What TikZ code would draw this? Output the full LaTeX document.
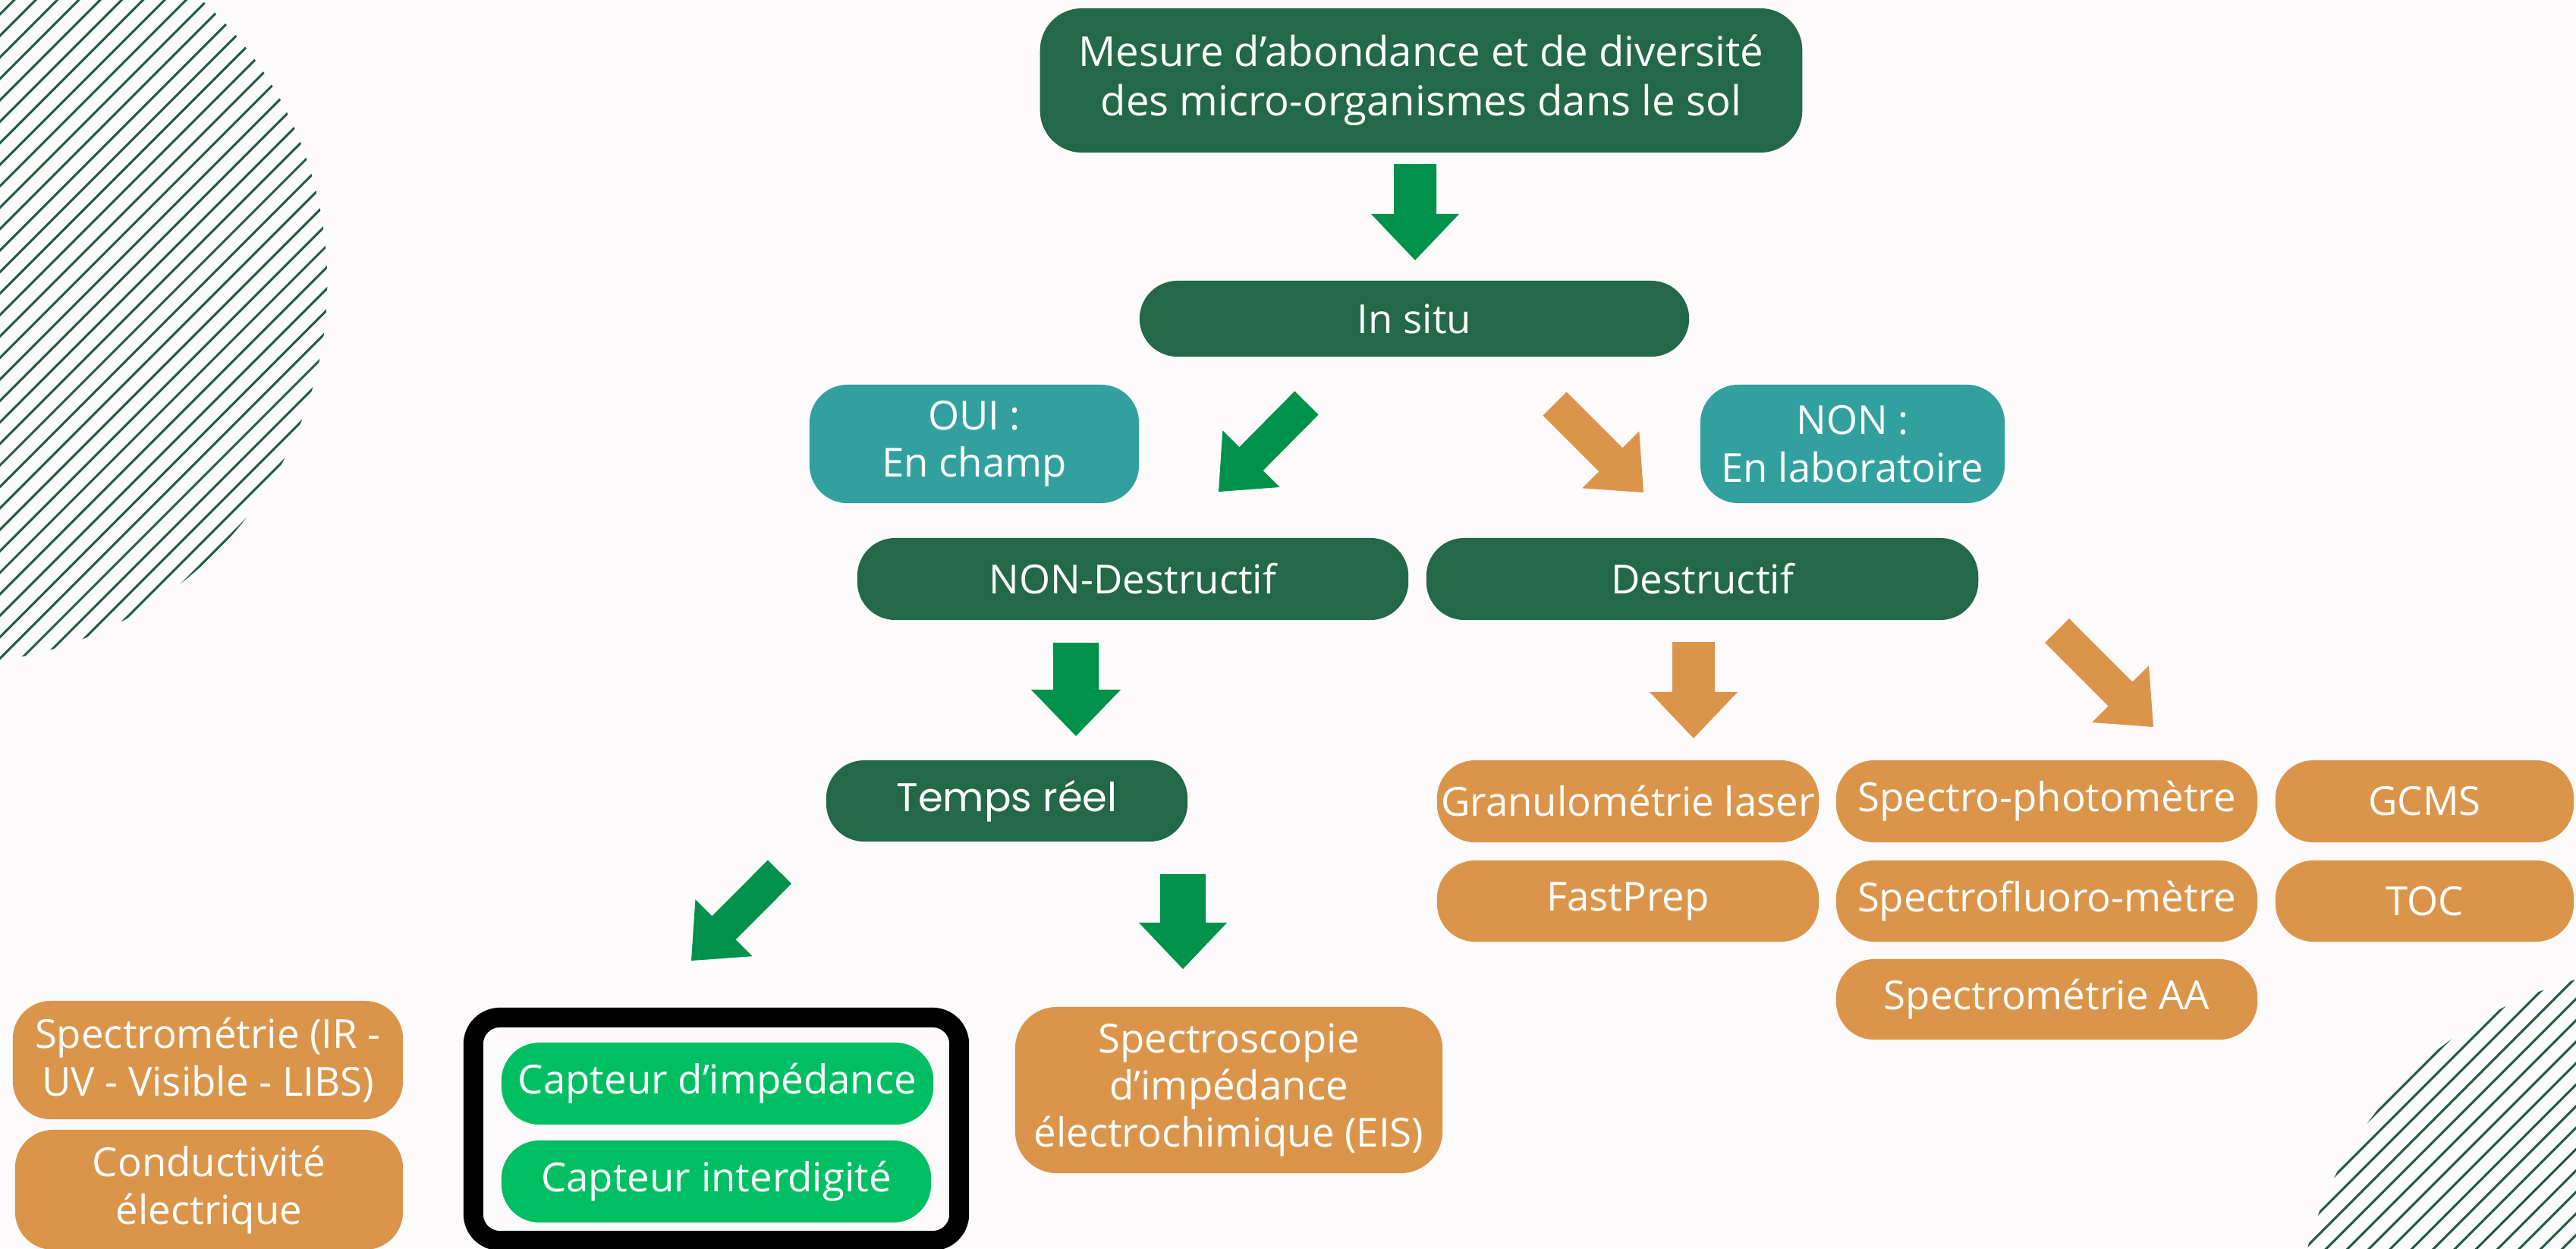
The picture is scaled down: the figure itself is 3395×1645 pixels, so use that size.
\documentclass[tikz,border=0pt]{standalone}
\usepackage{fontspec}
\setmainfont{Open Sans}
\newfontfamily\popfont{Poppins}
\usetikzlibrary{calc}
\definecolor{bgc}{HTML}{FCFAFA}
\definecolor{dgreen}{HTML}{236849}
\definecolor{agreen}{HTML}{00924A}
\definecolor{orng}{HTML}{DB954B}
\definecolor{tealc}{HTML}{33A0A0}
\definecolor{bgreen}{HTML}{00BF63}
\definecolor{hatchc}{HTML}{1F5C3F}
\newcommand{\myfs}[1]{\fontsize{#1}{17.7}\selectfont}
\newcommand{\blockarrow}[6]{%
  \coordinate (ba-b) at ($(#3)!#6!(#2)$);
  \fill[#1] ($(#2)!#4!90:(#3)$) -- ($(ba-b)!#4!-90:(#2)$) -- ($(ba-b)!#5!-90:(#2)$) -- (#3)
    -- ($(ba-b)!#5!90:(#2)$) -- ($(ba-b)!#4!90:(#2)$) -- ($(#2)!#4!-90:(#3)$) -- cycle;}
\tikzset{
  box/.style={inner sep=0pt, align=center, text=white, font=\myfs{15}},
  dgbox/.style={box, fill=dgreen},
  orbox/.style={box, fill=orng},
  tlbox/.style={box, fill=tealc},
  bgbox/.style={box, fill=bgreen},
  pill/.style={rounded corners=0.5cm},
  garrow/.style={fill=agreen},
  oarrow/.style={fill=orng},
  hatchline/.style={draw=hatchc, line width=0.85pt},
}
\begin{document}
\begin{tikzpicture}[x=0.01cm, y=-0.01cm]
\useasboundingbox (0,0) rectangle (3395,1645);
\clip (0,0) rectangle (3395,1645);
\fill[bgc] (0,0) rectangle (3395,1645);
% hatched discs
\begin{scope}
  \clip (-71,373) circle[radius=5.02cm];
  \foreach \k in {-31,...,23} {
    \draw[hatchline] ({-71+56.5+14.15*\k-700},{373+56.5+14.15*\k+700}) -- ({-71+56.5+14.15*\k+700},{373+56.5+14.15*\k-700});
  }
\end{scope}
\begin{scope}
  \clip (3526,1776) circle[radius=5.02cm];
  \foreach \k in {-27,...,27} {
    \draw[hatchline] ({3526+1.8+14.15*\k-700},{1776+1.8+14.15*\k+700}) -- ({3526+1.8+14.15*\k+700},{1776+1.8+14.15*\k-700});
  }
\end{scope}
% nodes
\node[dgbox, minimum width=10.04cm, minimum height=1.90cm, rounded corners=0.55cm, font=\fontsize{15.5}{18.5}\selectfont] (top) at (1873,106) {Mesure d’abondance et de diversité\\des micro-organismes dans le sol};
\node[dgbox, pill, minimum width=7.24cm, minimum height=1.00cm] (insitu) at (1864,420) {In situ};
\node[tlbox, rounded corners=0.5cm, minimum width=4.34cm, minimum height=1.56cm] (oui) at (1284,585) {OUI :\\En champ};
\node[tlbox, rounded corners=0.5cm, minimum width=4.01cm, minimum height=1.56cm] (non) at (2441.5,585) {NON :\\En laboratoire};
\node[dgbox, pill, minimum width=7.26cm, minimum height=1.08cm] (nond) at (1493,763) {NON-Destructif};
\node[dgbox, pill, minimum width=7.27cm, minimum height=1.08cm] (destr) at (2243.5,763) {Destructif};
\node[dgbox, pill, minimum width=4.76cm, minimum height=1.07cm, font=\popfont\myfs{15}] (temps) at (1327,1055.5) {Temps réel};
\node[orbox, pill, minimum width=5.03cm, minimum height=1.08cm] (granu) at (2145.5,1056) {Granulométrie laser};
\node[orbox, pill, minimum width=5.03cm, minimum height=1.07cm] (fast) at (2145.5,1187.5) {FastPrep};
\node[orbox, pill, minimum width=5.55cm, minimum height=1.08cm] (sphoto) at (2697.5,1056) {Spectro-photomètre};
\node[orbox, pill, minimum width=5.55cm, minimum height=1.07cm] (sfluo) at (2697.5,1187.5) {Spectrofluoro-mètre};
\node[orbox, pill, minimum width=5.55cm, minimum height=1.06cm] (saa) at (2697.5,1317) {Spectrométrie AA};
\node[orbox, pill, minimum width=3.93cm, minimum height=1.08cm] (gcms) at (3195.5,1056) {GCMS};
\node[orbox, pill, minimum width=3.93cm, minimum height=1.07cm] (toc) at (3195.5,1187.5) {TOC};
\node[orbox, rounded corners=0.5cm, minimum width=5.14cm, minimum height=1.56cm] (spir) at (274,1397) {Spectrométrie (IR -\\UV - Visible - LIBS)};
\node[orbox, rounded corners=0.5cm, minimum width=5.11cm, minimum height=1.58cm] (cond) at (275.5,1568) {Conductivité\\électrique};
\node[draw=black, line width=0.26cm, rounded corners=0.35cm, minimum width=6.40cm, minimum height=2.94cm, inner sep=0pt] (frame) at (944,1488) {};
\node[bgbox, pill, minimum width=5.69cm, minimum height=1.08cm] (cimp) at (945.5,1428) {Capteur d’impédance};
\node[bgbox, pill, minimum width=5.66cm, minimum height=1.08cm] (cint) at (944,1557) {Capteur interdigité};
\node[orbox, rounded corners=0.55cm, minimum width=5.63cm, minimum height=2.19cm] (eis) at (1619.5,1436.5) {Spectroscopie\\d’impédance\\électrochimique (EIS)};
% block arrows
\coordinate (a1t) at (1865,216);   \coordinate (a1h) at (1865,343);
\coordinate (a2t) at (1722,531);   \coordinate (a2h) at (1606,648);
\coordinate (a3t) at (2049,532);   \coordinate (a3h) at (2166,649);
\coordinate (a4t) at (1418,847);   \coordinate (a4h) at (1418,970);
\coordinate (a5t) at (2232,846);   \coordinate (a5h) at (2232,973);
\coordinate (a6t) at (2711,831);   \coordinate (a6h) at (2838,958);
\coordinate (a7t) at (1027.5,1149); \coordinate (a7h) at (911,1266);
\coordinate (a8t) at (1559,1152);  \coordinate (a8h) at (1559,1277);
\blockarrow{garrow}{a1t}{a1h}{0.28cm}{0.58cm}{0.61cm}
\blockarrow{garrow}{a2t}{a2h}{0.22cm}{0.53cm}{0.61cm}
\blockarrow{oarrow}{a3t}{a3h}{0.22cm}{0.53cm}{0.61cm}
\blockarrow{garrow}{a4t}{a4h}{0.30cm}{0.59cm}{0.61cm}
\blockarrow{oarrow}{a5t}{a5h}{0.28cm}{0.58cm}{0.61cm}
\blockarrow{oarrow}{a6t}{a6h}{0.225cm}{0.53cm}{0.615cm}
\blockarrow{garrow}{a7t}{a7h}{0.22cm}{0.53cm}{0.61cm}
\blockarrow{garrow}{a8t}{a8h}{0.30cm}{0.58cm}{0.61cm}
\end{tikzpicture}
\end{document}
